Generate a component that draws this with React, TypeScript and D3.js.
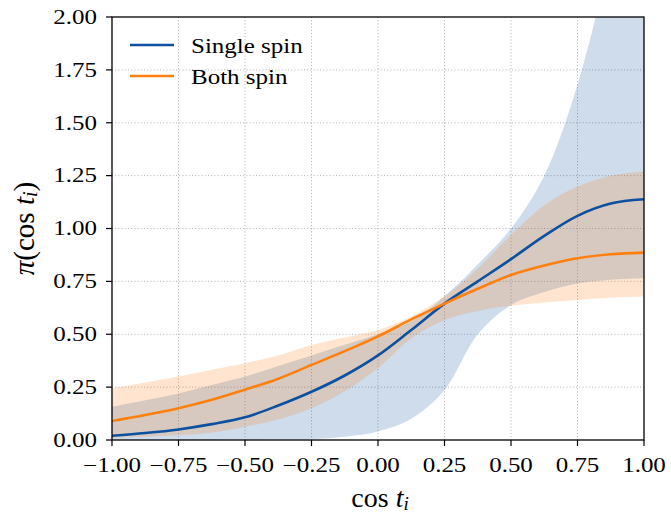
import React from "react";
import * as d3 from "d3";

const xGrid = [-1, -0.875, -0.75, -0.625, -0.5, -0.375, -0.25, -0.125, 0, 0.125, 0.25, 0.375, 0.5, 0.625, 0.75, 0.875, 1];

const singleMedian = [0.02, 0.033, 0.05, 0.075, 0.107, 0.163, 0.228, 0.305, 0.4, 0.52, 0.645, 0.75, 0.855, 0.965, 1.06, 1.118, 1.138];
const singleLower = [0.0, 0.0, 0.0, 0.0, 0.001, 0.002, 0.004, 0.015, 0.04, 0.1, 0.236, 0.5, 0.638, 0.7, 0.74, 0.758, 0.765];
const singleUpper = [0.157, 0.188, 0.22, 0.26, 0.3, 0.35, 0.4, 0.45, 0.5, 0.56, 0.68, 0.83, 1.0, 1.25, 1.68, 2.3, 3.0];

const bothMedian = [0.09, 0.118, 0.15, 0.19, 0.238, 0.29, 0.355, 0.42, 0.49, 0.57, 0.645, 0.715, 0.78, 0.825, 0.859, 0.878, 0.886];
const bothLower = [0.01, 0.015, 0.022, 0.035, 0.063, 0.097, 0.15, 0.23, 0.34, 0.48, 0.567, 0.61, 0.635, 0.65, 0.662, 0.672, 0.678];
const bothUpper = [0.245, 0.272, 0.3, 0.332, 0.363, 0.4, 0.449, 0.485, 0.52, 0.585, 0.68, 0.81, 0.97, 1.11, 1.198, 1.25, 1.27];

const xTicks = [-1, -0.75, -0.5, -0.25, 0, 0.25, 0.5, 0.75, 1];
const yTicks = [0, 0.25, 0.5, 0.75, 1, 1.25, 1.5, 1.75, 2];
const seriesNames = ["Single spin", "Both spin"];

const BLUE = "#0c50a0";
const ORANGE = "#ff7f0e";

const W = 671;
const H = 515;
const L = 112, R = 644, T = 17, B = 440;

const fmt = (v: number) => (v < 0 ? "\u2212" : "") + Math.abs(v).toFixed(2);

const SERIF = "Liberation Serif, serif";
const FS = 20;
const SX = 1.25;

function SText({ x, y, anchor, children }: { x: number; y: number; anchor: string; children: React.ReactNode }) {
  return (
    <g transform={`translate(${x},${y}) scale(${SX},1)`}>
      <text x={0} y={0} textAnchor={anchor} fontFamily={SERIF} fontSize={FS} fill="#000">
        {children}
      </text>
    </g>
  );
}

export default function App() {
  const x = d3.scaleLinear().domain([-1, 1]).range([L, R]);
  const y = d3.scaleLinear().domain([0, 2]).range([B, T]);
  const curve = d3.curveCatmullRom.alpha(0.5);

  const area = (lo: number[], hi: number[]) =>
    d3.area<number>()
      .x((_, i) => x(xGrid[i]))
      .y0((_, i) => y(lo[i]))
      .y1((_, i) => y(hi[i]))
      .curve(curve)(xGrid) as string;

  const line = (vals: number[]) =>
    d3.line<number>()
      .x((_, i) => x(xGrid[i]))
      .y((_, i) => y(vals[i]))
      .curve(curve)(xGrid) as string;

  const mathFont = "Liberation Serif, serif";

  return (
    <svg width={W} height={H} style={{ position: "absolute", left: 0, top: 0, background: "#fff" }}>
      <defs>
        <clipPath id="plotclip">
          <rect x={L} y={T} width={R - L} height={B - T} />
        </clipPath>
      </defs>
      <rect x={0} y={0} width={W} height={H} fill="#fff" />

      {/* grid */}
      <g stroke="#b0b0b0" strokeWidth={1} strokeDasharray="1,2.2">
        {xTicks.slice(1, -1).map((t) => (
          <line key={"gx" + t} x1={x(t)} x2={x(t)} y1={T} y2={B} />
        ))}
        {yTicks.slice(1, -1).map((t) => (
          <line key={"gy" + t} x1={L} x2={R} y1={y(t)} y2={y(t)} />
        ))}
      </g>

      <g clipPath="url(#plotclip)">
        <path d={area(singleLower, singleUpper)} fill={BLUE} fillOpacity={0.2} stroke="none" />
        <path d={area(bothLower, bothUpper)} fill={ORANGE} fillOpacity={0.2} stroke="none" />
        <path d={line(singleMedian)} fill="none" stroke={BLUE} strokeWidth={2.6} />
        <path d={line(bothMedian)} fill="none" stroke={ORANGE} strokeWidth={2.6} />
      </g>

      {/* spines */}
      <rect x={L} y={T} width={R - L} height={B - T} fill="none" stroke="#000" strokeWidth={1.3} />

      {/* x ticks */}
      <g>
        {xTicks.map((t) => (
          <g key={"xt" + t}>
            <line x1={x(t)} x2={x(t)} y1={B} y2={B + 6} stroke="#000" strokeWidth={1.2} />
            <SText x={x(t)} y={B + 32} anchor="middle">{fmt(t)}</SText>
          </g>
        ))}
      </g>

      {/* y ticks */}
      <g>
        {yTicks.map((t) => (
          <g key={"yt" + t}>
            <line x1={L - 6} x2={L} y1={y(t)} y2={y(t)} stroke="#000" strokeWidth={1.2} />
            <SText x={L - 15} y={y(t) + 6.8} anchor="end">{fmt(t)}</SText>
          </g>
        ))}
      </g>

      {/* axis labels */}
      <text x={(L + R) / 2 + 2} y={507} textAnchor="middle" fontFamily={mathFont} fontSize={28} fill="#000">
        cos <tspan fontStyle="italic">t</tspan>
        <tspan fontStyle="italic" fontSize={19} dy={3}>i</tspan>
      </text>
      <text
        transform={`translate(34, ${(T + B) / 2}) rotate(-90)`}
        textAnchor="middle"
        fontFamily={mathFont}
        fontSize={29}
        fill="#000"
      >
        <tspan fontStyle="italic">π</tspan>(cos <tspan fontStyle="italic">t</tspan>
        <tspan fontStyle="italic" fontSize={20} dy={3}>i</tspan>
        <tspan dy={-3}>)</tspan>
      </text>

      {/* legend */}
      {seriesNames.map((name, i) => (
        <g key={name}>
          <line x1={130} x2={174} y1={45 + i * 31} y2={45 + i * 31} stroke={i === 0 ? BLUE : ORANGE} strokeWidth={2.6} />
          <SText x={191} y={52.5 + i * 31} anchor="start">{name}</SText>
        </g>
      ))}
    </svg>
  );
}
